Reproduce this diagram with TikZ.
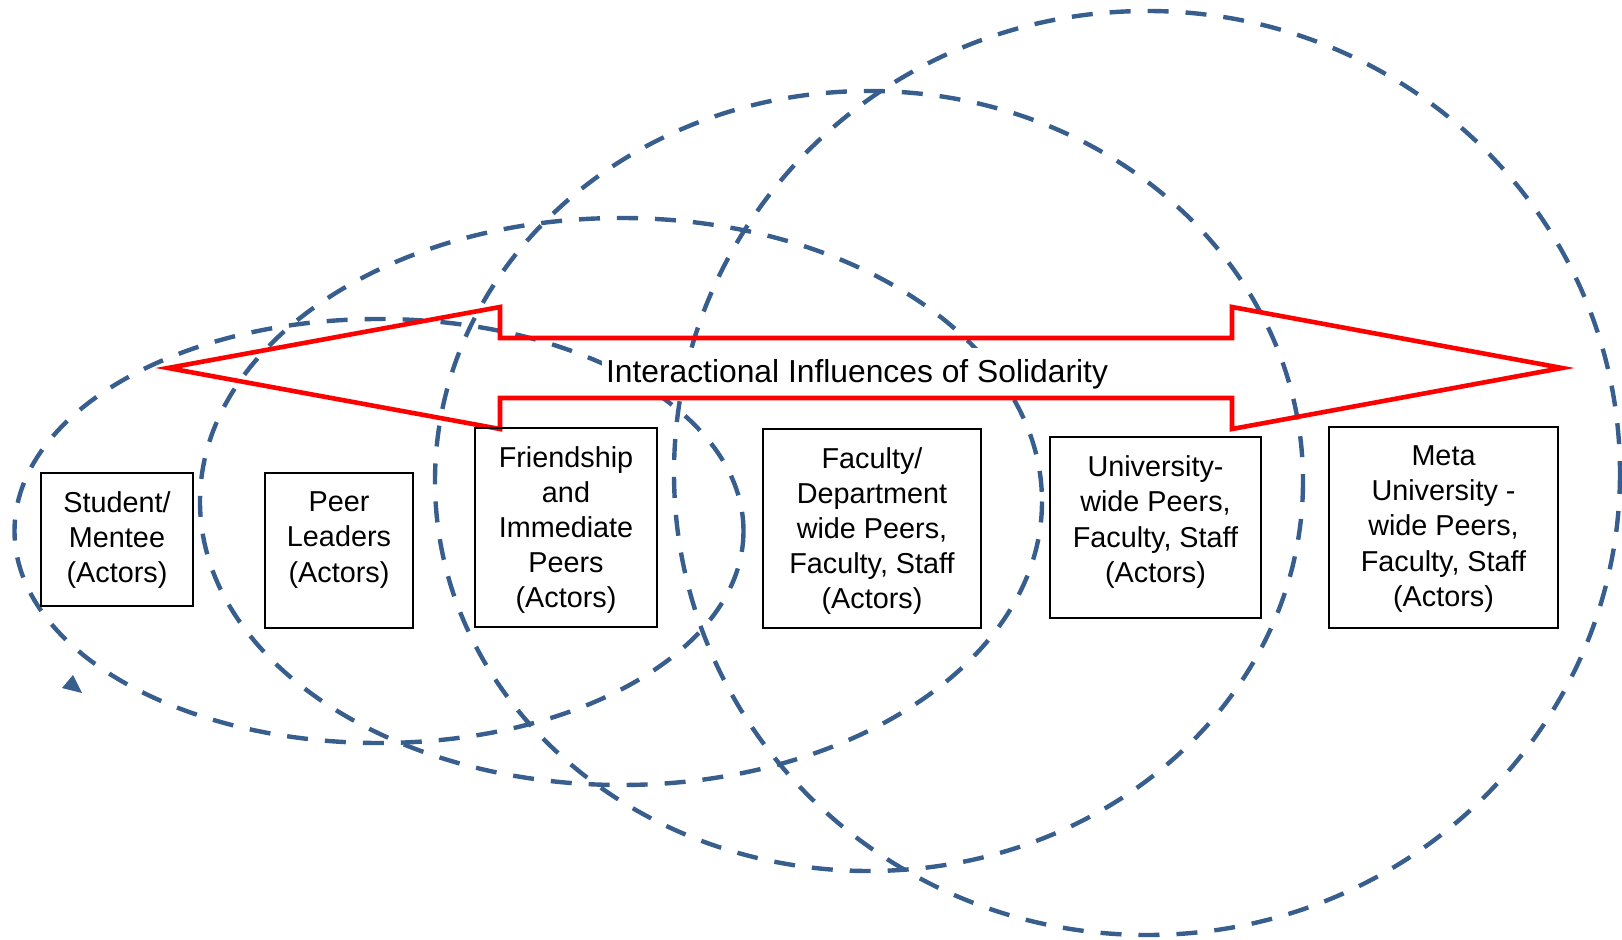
\documentclass[tikz,border=0pt]{standalone}
\usepackage{fontspec}
\setmainfont{Liberation Sans}
\definecolor{eblue}{RGB}{56,94,142}
\definecolor{ared}{RGB}{255,0,0}
\begin{document}
\begin{tikzpicture}[x=0.5pt,y=-0.5pt,
  ell/.style={draw=eblue, line width=2.2pt, dash pattern=on 10.5pt off 8.5pt},
  actorbox/.style={draw=black, line width=1pt, inner sep=0pt},
  boxtext/.style={align=center, font=\fontsize{14.4}{17.6}\selectfont, inner sep=0pt},
  bigarrow/.style={draw=ared, line width=2.3pt, line join=miter},
  titletext/.style={fill=white, inner xsep=2pt, inner ysep=0pt, minimum height=26pt, font=\fontsize{15.9}{19}\selectfont}]
\useasboundingbox (0,0) rectangle (1622,940);
% circles of influence
\draw[ell] (379,531) ellipse [x radius=364.5, y radius=212];
\draw[ell] (621,501.5) ellipse [x radius=421, y radius=283.5];
\draw[ell] (869,481) ellipse [x radius=434, y radius=390];
\draw[ell] (1147,473) ellipse [x radius=473, y radius=462];
\fill[eblue] (73,675) -- (62,688) -- (82,693) -- cycle;
% title (white background hides the circles inside the shaft)
\node[titletext] (title) at (857,374) {Interactional Influences of Solidarity};
% double arrow
\coordinate (LT) at (168,368);
\coordinate (RT) at (1562,368);
\draw[bigarrow] (LT) -- (500,307) -- (500,338) -- (1232,338) -- (1232,307) -- (RT)
  -- (1232,429) -- (1232,398) -- (500,398) -- (500,429) -- cycle;
% boxes
\node[actorbox, minimum width=76pt, minimum height=66.5pt] (b1) at (117,539.5) {};
\node[actorbox, minimum width=74pt, minimum height=77.5pt] (b2) at (339,550.5) {};
\node[actorbox, minimum width=91pt, minimum height=99.5pt] (b3) at (566,527.5) {};
\node[actorbox, minimum width=109pt, minimum height=99.5pt] (b4) at (872,528.5) {};
\node[actorbox, minimum width=105.5pt, minimum height=90.5pt] (b5) at (1155.5,527.5) {};
\node[actorbox, minimum width=114.5pt, minimum height=100.5pt] (b6) at (1443.5,527.5) {};
\node[boxtext] (t1) at (117,540) {Student/\\Mentee\\(Actors)};
\node[boxtext] (t2) at (339,540) {Peer\\Leaders\\(Actors)};
\node[boxtext] (t3) at (566,530) {Friendship\\and\\Immediate\\Peers\\(Actors)};
\node[boxtext] (t4) at (872,531) {Faculty/\\Department\\wide Peers,\\Faculty, Staff\\(Actors)};
\node[boxtext] (t5) at (1155.5,522) {University-\\wide Peers,\\Faculty, Staff\\(Actors)};
\node[boxtext] (t6) at (1443.5,529) {Meta\\University -\\wide Peers,\\Faculty, Staff\\(Actors)};
\end{tikzpicture}
\end{document}
